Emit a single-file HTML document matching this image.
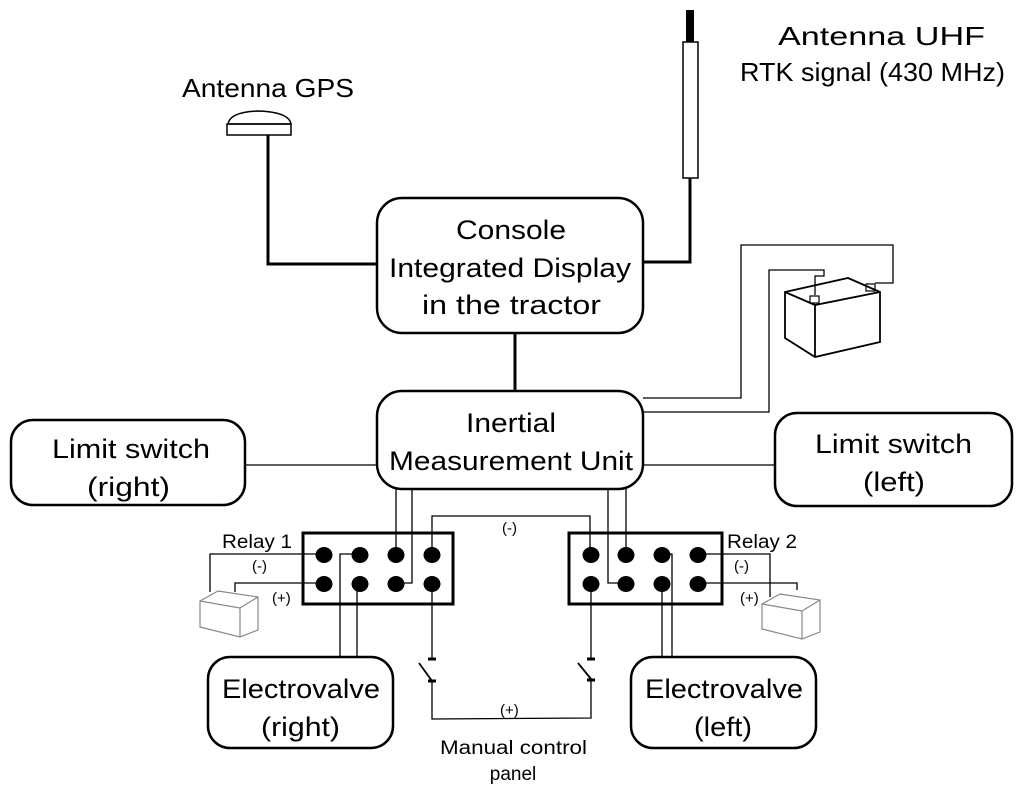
<!DOCTYPE html>
<html><head><meta charset="utf-8"><style>
html,body{margin:0;padding:0;background:#fff}
svg{display:block}
text{font-family:"Liberation Sans",sans-serif;fill:#000}
.b{font-size:27px;text-anchor:middle}
.s{font-size:15px}
</style></head><body>
<svg width="1024" height="802" viewBox="0 0 1024 802" xmlns="http://www.w3.org/2000/svg">
<g fill="none" stroke="#000">
<rect x="377" y="198" width="266" height="135" rx="25" stroke-width="2.5"/>
<rect x="377" y="391" width="266" height="98" rx="25" stroke-width="2.5"/>
<rect x="11" y="420" width="234" height="85" rx="22" stroke-width="2.5"/>
<rect x="775" y="413" width="237" height="93" rx="22" stroke-width="2.5"/>
<rect x="208" y="657" width="185" height="91" rx="22" stroke-width="2.5"/>
<rect x="631" y="657" width="185" height="91" rx="22" stroke-width="2.5"/>
<rect x="303" y="533" width="150" height="71" stroke-width="3"/>
<rect x="569" y="533" width="153" height="71" stroke-width="3"/>
<path d="M228 124 Q230 112 258 111 Q289 112 291 124 Z" stroke-width="1.5"/>
<rect x="227" y="124" width="64" height="11" stroke-width="1.5"/>
<polyline points="268,135 268,264 377,264" stroke-width="3"/>
<rect x="683" y="42" width="15" height="136" stroke-width="1.5"/>
<polyline points="690,178 690,262 643,262" stroke-width="3"/>
<line x1="515" y1="333" x2="515" y2="391" stroke-width="3"/>
<polyline points="643,398 741,398 741,245 893,245 893,283 875,283" stroke-width="1.3"/>
<polyline points="643,412 769,412 769,270 824,270 824,276 815,276 815,295" stroke-width="1.3"/>
<line x1="245" y1="465" x2="377" y2="465" stroke-width="1.3"/>
<line x1="643" y1="465" x2="775" y2="465" stroke-width="1.3"/>
<line x1="396" y1="489" x2="396" y2="554" stroke-width="1.3"/>
<polyline points="412,489 412,583 396,583" stroke-width="1.3"/>
<polyline points="432,554 432,516 590,516 590,554" stroke-width="1.3"/>
<polyline points="608,489 608,583 626,583" stroke-width="1.3"/>
<line x1="626" y1="489" x2="626" y2="554" stroke-width="1.3"/>
<polyline points="324,554 210,554 210,592" stroke-width="1.3"/>
<polyline points="324,583 235,583 235,592" stroke-width="1.3"/>
<polyline points="360,554 340,554 340,657" stroke-width="1.3"/>
<line x1="357" y1="583" x2="357" y2="657" stroke-width="1.3"/>
<polyline points="662,554 672,554 672,657" stroke-width="1.3"/>
<line x1="662" y1="583" x2="662" y2="657" stroke-width="1.3"/>
<polyline points="698,554 770,554 770,597" stroke-width="1.3"/>
<polyline points="698,583 797,583 797,590" stroke-width="1.3"/>
<line x1="432" y1="583" x2="432" y2="658" stroke-width="1.3"/>
<line x1="428" y1="659" x2="436" y2="659" stroke-width="3"/>
<line x1="419" y1="663" x2="432" y2="681" stroke-width="1.8"/>
<line x1="428" y1="681" x2="436" y2="681" stroke-width="3"/>
<polyline points="432,681 432,719 591,718 591,679" stroke-width="1.3"/>
<line x1="591" y1="583" x2="591" y2="658" stroke-width="1.3"/>
<line x1="587" y1="659" x2="595" y2="659" stroke-width="3"/>
<line x1="578" y1="663" x2="591" y2="679" stroke-width="1.8"/>
<line x1="587" y1="680" x2="595" y2="680" stroke-width="3"/>
<g stroke-width="1.8">
<polygon points="785,292 848,278 880,292 880,342 815,357 785,338"/>
<polyline points="785,292 815,305 880,292"/>
<line x1="815" y1="305" x2="815" y2="357"/>
<rect x="810" y="296" width="9" height="7" stroke-width="1.2"/>
<rect x="866" y="284" width="9" height="7" stroke-width="1.2"/>
</g>
<g stroke="#888" stroke-width="1.2">
<polygon points="200,601 218,591 258,597 258,630 240,637 200,627"/>
<polyline points="200,601 240,608 258,597"/>
<line x1="240" y1="608" x2="240" y2="637"/>
<polygon points="762,604 780,594 820,600 820,632 802,639 762,629"/>
<polyline points="762,604 802,611 820,600"/>
<line x1="802" y1="611" x2="802" y2="639"/>
</g>
</g>
<rect x="686" y="10" width="8" height="32" fill="#000"/>
<g fill="#000">
<ellipse cx="324" cy="555" rx="8.5" ry="8"/><ellipse cx="360" cy="555" rx="8.5" ry="8"/><ellipse cx="396" cy="555" rx="8.5" ry="8"/><ellipse cx="432" cy="555" rx="8.5" ry="8"/>
<ellipse cx="324" cy="584" rx="8.5" ry="8"/><ellipse cx="360" cy="584" rx="8.5" ry="8"/><ellipse cx="396" cy="584" rx="8.5" ry="8"/><ellipse cx="432" cy="584" rx="8.5" ry="8"/>
<ellipse cx="591" cy="555" rx="8.5" ry="8"/><ellipse cx="626" cy="555" rx="8.5" ry="8"/><ellipse cx="662" cy="555" rx="8.5" ry="8"/><ellipse cx="698" cy="555" rx="8.5" ry="8"/>
<ellipse cx="591" cy="584" rx="8.5" ry="8"/><ellipse cx="626" cy="584" rx="8.5" ry="8"/><ellipse cx="662" cy="584" rx="8.5" ry="8"/><ellipse cx="698" cy="584" rx="8.5" ry="8"/>
</g>
<text x="182" y="97" font-size="26" textLength="172" lengthAdjust="spacingAndGlyphs">Antenna GPS</text>
<text x="778" y="45" font-size="26" textLength="207" lengthAdjust="spacingAndGlyphs">Antenna UHF</text>
<text x="740" y="81" font-size="26" textLength="265" lengthAdjust="spacingAndGlyphs">RTK signal (430 MHz)</text>
<text class="b" x="456" y="239" textLength="110" lengthAdjust="spacingAndGlyphs" style="text-anchor:start">Console</text>
<text class="b" x="389" y="277" textLength="242" lengthAdjust="spacingAndGlyphs" style="text-anchor:start">Integrated Display</text>
<text class="b" x="422" y="314" textLength="179" lengthAdjust="spacingAndGlyphs" style="text-anchor:start">in the tractor</text>
<text class="b" x="466" y="432" textLength="90" lengthAdjust="spacingAndGlyphs" style="text-anchor:start">Inertial</text>
<text class="b" x="389" y="470" textLength="244" lengthAdjust="spacingAndGlyphs" style="text-anchor:start">Measurement Unit</text>
<text class="b" x="52" y="458" textLength="158" lengthAdjust="spacingAndGlyphs" style="text-anchor:start">Limit switch</text>
<text class="b" x="87" y="496" textLength="83" lengthAdjust="spacingAndGlyphs" style="text-anchor:start">(right)</text>
<text class="b" x="815" y="453" textLength="157" lengthAdjust="spacingAndGlyphs" style="text-anchor:start">Limit switch</text>
<text class="b" x="863" y="491" textLength="62" lengthAdjust="spacingAndGlyphs" style="text-anchor:start">(left)</text>
<text class="b" x="222" y="698" textLength="158" lengthAdjust="spacingAndGlyphs" style="text-anchor:start">Electrovalve</text>
<text class="b" x="261" y="736" textLength="79" lengthAdjust="spacingAndGlyphs" style="text-anchor:start">(right)</text>
<text class="b" x="645" y="698" textLength="158" lengthAdjust="spacingAndGlyphs" style="text-anchor:start">Electrovalve</text>
<text class="b" x="694" y="736" textLength="58" lengthAdjust="spacingAndGlyphs" style="text-anchor:start">(left)</text>
<text x="222" y="548" font-size="19" textLength="70" lengthAdjust="spacingAndGlyphs">Relay 1</text>
<text x="727" y="548" font-size="19" textLength="70" lengthAdjust="spacingAndGlyphs">Relay 2</text>
<text class="s" x="252" y="571">(-)</text>
<text class="s" x="272" y="603">(+)</text>
<text class="s" x="734" y="571">(-)</text>
<text class="s" x="740" y="603">(+)</text>
<text class="s" x="502" y="533">(-)</text>
<text class="s" x="500" y="715">(+)</text>
<text x="440" y="754" font-size="19" textLength="147" lengthAdjust="spacingAndGlyphs">Manual control</text>
<text x="513" y="780" font-size="19" text-anchor="middle">panel</text>
</svg>
</body></html>
